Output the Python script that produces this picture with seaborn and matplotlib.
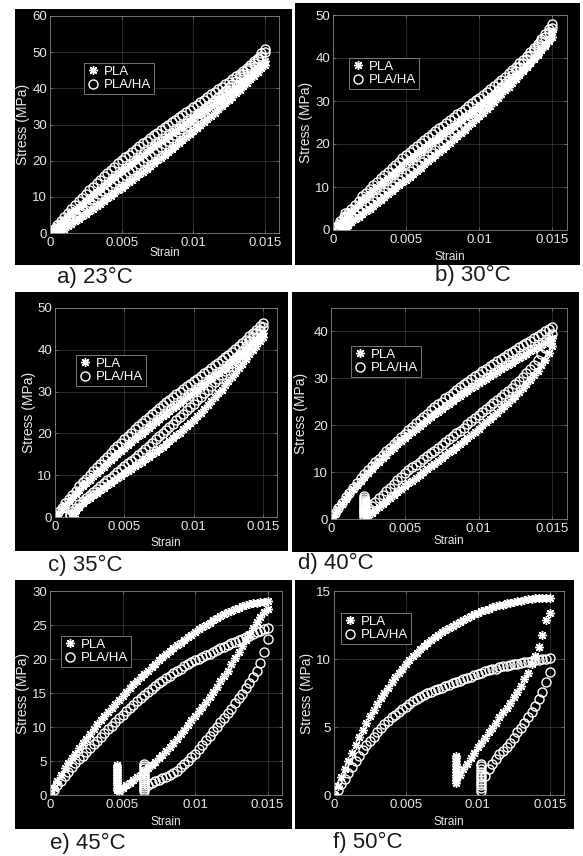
import numpy as np
import pandas as pd
import matplotlib
matplotlib.use("Agg")
import matplotlib.pyplot as plt
from matplotlib.lines import Line2D
from matplotlib.patches import Rectangle
import seaborn as sns

# strain grid (units of 1e-3); loading branches are read on it, unloading
# branches use its upper tail
strain_grid = [0, 0.25, 0.5, 0.75, 1, 1.25, 1.5, 1.75, 2, 2.25, 2.5, 2.75,
               3, 3.25, 3.5, 3.75, 4, 4.25, 4.5, 4.75, 5, 5.25, 5.5, 5.75,
               6, 6.25, 6.5, 6.75, 7, 7.25, 7.5, 7.75, 8, 8.25, 8.5, 8.75,
               9, 9.25, 9.5, 9.75, 10, 10.25, 10.5, 10.75, 11, 11.25, 11.5, 11.75,
               12, 12.25, 12.5, 12.75, 13, 13.25, 13.5, 13.75, 14, 14.25, 14.5, 14.75, 15]

materials = ["PLA", "PLA/HA"]
captions = ["a) 23°C", "b) 30°C", "c) 35°C", "d) 40°C", "e) 45°C", "f) 50°C"]
x_ticks = [0, 0.005, 0.01, 0.015]
x_tick_labels = ["0", "0.005", "0.01", "0.015"]

# ---- a) 23C ----
a_pla_load = [0, 0.9, 1.8, 2.7, 3.6, 4.5, 5.4, 6.3, 7.2, 8.05, 8.9, 9.75,
              10.6, 11.45, 12.25, 13.1, 13.9, 14.7, 15.5, 16.3, 17.1, 17.9, 18.65, 19.45,
              20.2, 20.95, 21.7, 22.45, 23.2, 23.95, 24.65, 25.4, 26.1, 26.85, 27.55, 28.3,
              29.0, 29.7, 30.4, 31.1, 31.8, 32.5, 33.2, 33.9, 34.6, 35.3, 36.0, 36.7,
              37.4, 38.1, 38.85, 39.55, 40.3, 41.1, 41.9, 42.7, 43.5, 44.45, 45.4, 46.45, 47.5]
a_plaha_load = [0, 1.1, 2.2, 3.3, 4.4, 5.5, 6.6, 7.7, 8.8, 9.8, 10.8, 11.8,
                12.8, 13.75, 14.7, 15.65, 16.6, 17.5, 18.35, 19.25, 20.1, 20.9, 21.7, 22.5,
                23.3, 24.05, 24.8, 25.55, 26.3, 27.05, 27.75, 28.5, 29.2, 29.9, 30.6, 31.3,
                32.0, 32.7, 33.4, 34.1, 34.8, 35.5, 36.2, 36.9, 37.6, 38.3, 39.0, 39.7,
                40.4, 41.1, 41.85, 42.55, 43.3, 44.1, 44.9, 45.7, 46.5, 47.5, 48.5, 49.7, 51.0]
a_pla_unload = [0.6, 1.2, 1.9, 2.55, 3.25, 3.9, 4.6, 5.3, 6.0, 6.7, 7.45, 8.15, 8.9,
                9.6, 10.35, 11.05, 11.8, 12.5, 13.25, 14.0, 14.75, 15.5, 16.25, 17.0, 17.75,
                18.5, 19.3, 20.05, 20.85, 21.6, 22.4, 23.2, 24.0, 24.8, 25.65, 26.45, 27.3,
                28.1, 28.95, 29.8, 30.65, 31.5, 32.4, 33.25, 34.15, 35.0, 35.9, 36.8, 37.7,
                38.6, 39.55, 40.55, 41.5, 42.5, 43.5, 44.5, 45.5, 46.5]
a_plaha_unload = [2.1, 3.0, 3.85, 4.65, 5.5, 6.3, 7.05, 7.8, 8.55, 9.3, 10.05, 10.8, 11.55,
                  12.3, 13.05, 13.8, 14.55, 15.3, 16.05, 16.8, 17.55, 18.3, 19.05, 19.85, 20.6,
                  21.4, 22.2, 23.0, 23.8, 24.6, 25.45, 26.25, 27.1, 27.9, 28.75, 29.6, 30.45,
                  31.3, 32.15, 33.05, 33.9, 34.8, 35.7, 36.6, 37.5, 38.4, 39.35, 40.25, 41.2,
                  42.1, 43.1, 44.05, 45.05, 46.0, 47.0, 48.0, 49.0, 50.0]
a_pla_strip = (0.5, [0.3, 0.9])
a_plaha_strip = (0.6, [0.4, 1.1])

# ---- b) 30C ----
b_pla_load = [0, 0.9, 1.75, 2.65, 3.5, 4.35, 5.2, 6.05, 6.9, 7.7, 8.45, 9.25,
              10.0, 10.75, 11.45, 12.2, 12.9, 13.6, 14.3, 15.0, 15.7, 16.35, 17.05, 17.7,
              18.4, 19.05, 19.7, 20.35, 21.0, 21.65, 22.3, 22.95, 23.6, 24.25, 24.9, 25.55,
              26.2, 26.85, 27.5, 28.15, 28.8, 29.45, 30.15, 30.8, 31.5, 32.2, 32.9, 33.6,
              34.3, 35.05, 35.8, 36.55, 37.3, 38.1, 38.9, 39.75, 40.6, 41.75, 42.9, 44.4, 46.0]
b_plaha_load = [0, 1.0, 2.0, 3.0, 4.0, 4.95, 5.9, 6.85, 7.8, 8.65, 9.5, 10.35,
                11.2, 12.0, 12.8, 13.6, 14.4, 15.15, 15.9, 16.65, 17.4, 18.15, 18.85, 19.6,
                20.3, 21.0, 21.65, 22.35, 23.0, 23.65, 24.3, 24.95, 25.6, 26.25, 26.9, 27.55,
                28.2, 28.85, 29.5, 30.15, 30.8, 31.45, 32.15, 32.8, 33.5, 34.2, 34.95, 35.65,
                36.4, 37.2, 38.0, 38.8, 39.6, 40.5, 41.4, 42.35, 43.3, 44.4, 45.5, 46.65, 47.8]
b_pla_unload = [0.6, 1.2, 1.85, 2.45, 3.1, 3.7, 4.35, 5.0, 5.65, 6.3, 6.95, 7.65, 8.3,
                9.0, 9.7, 10.35, 11.05, 11.7, 12.4, 13.1, 13.8, 14.5, 15.25, 15.95, 16.7,
                17.4, 18.15, 18.85, 19.6, 20.3, 21.05, 21.8, 22.55, 23.3, 24.1, 24.9, 25.7,
                26.5, 27.3, 28.15, 28.95, 29.8, 30.7, 31.55, 32.45, 33.3, 34.2, 35.15, 36.05,
                37.0, 38.0, 39.0, 40.0, 41.0, 42.0, 43.0, 44.0, 45.0]
b_plaha_unload = [1.4, 2.1, 2.8, 3.45, 4.15, 4.8, 5.5, 6.15, 6.85, 7.5, 8.2, 8.85, 9.55,
                  10.2, 10.9, 11.6, 12.3, 13.0, 13.7, 14.4, 15.1, 15.8, 16.55, 17.25, 18.0,
                  18.7, 19.45, 20.2, 20.95, 21.7, 22.45, 23.25, 24.0, 24.8, 25.6, 26.4, 27.2,
                  28.0, 28.85, 29.7, 30.55, 31.4, 32.3, 33.2, 34.1, 35.0, 35.95, 36.9, 37.85,
                  38.8, 39.8, 40.8, 41.8, 42.8, 43.85, 44.9, 45.95, 47.0]
b_pla_strip = (0.8, [0.2, 0.8, 1.4])
b_plaha_strip = (0.85, [0.3, 0.9, 1.5, 2.1, 2.7, 3.3, 3.9])

# ---- c) 35C ----
c_pla_load = [0, 0.95, 1.9, 2.85, 3.8, 4.7, 5.55, 6.45, 7.3, 8.1, 8.9, 9.7,
              10.5, 11.3, 12.05, 12.85, 13.6, 14.35, 15.05, 15.8, 16.5, 17.2, 17.9, 18.6,
              19.3, 19.95, 20.65, 21.3, 22.0, 22.7, 23.35, 24.05, 24.7, 25.35, 26.0, 26.65,
              27.3, 27.95, 28.6, 29.25, 29.9, 30.55, 31.2, 31.85, 32.5, 33.15, 33.8, 34.45,
              35.1, 35.75, 36.45, 37.1, 37.8, 38.55, 39.3, 40.05, 40.8, 41.55, 42.35, 43.15, 44.0]
c_plaha_load = [0, 1.1, 2.2, 3.25, 4.3, 5.3, 6.3, 7.3, 8.3, 9.2, 10.1, 11.0,
                11.9, 12.75, 13.6, 14.45, 15.3, 16.15, 16.95, 17.8, 18.6, 19.4, 20.15, 20.95,
                21.7, 22.45, 23.15, 23.9, 24.6, 25.3, 26.0, 26.7, 27.4, 28.05, 28.7, 29.35,
                30.0, 30.6, 31.25, 31.85, 32.5, 33.1, 33.75, 34.35, 35.0, 35.6, 36.25, 36.85,
                37.5, 38.2, 38.85, 39.55, 40.2, 40.95, 41.7, 42.45, 43.2, 44.0, 44.8, 45.65, 46.5]
c_pla_unload = [1.0, 1.7, 2.5, 3.3, 3.95, 4.55, 5.2, 5.8, 6.4, 7.0, 7.6,
                8.2, 8.75, 9.35, 9.9, 10.5, 11.05, 11.6, 12.15, 12.7, 13.25, 13.85, 14.4,
                15.0, 15.6, 16.25, 16.85, 17.5, 18.15, 18.85, 19.5, 20.2, 20.95, 21.7, 22.45,
                23.2, 24.1, 25.0, 25.9, 26.8, 27.7, 28.65, 29.55, 30.5, 31.5, 32.5, 33.5,
                34.5, 35.6, 36.7, 37.85, 39.0, 40.0, 41.0, 42.0, 43.0]
c_plaha_unload = [1.4, 2.2, 3.0, 3.8, 4.5, 5.2, 5.95, 6.7, 7.4, 8.05, 8.75,
                  9.4, 10.1, 10.75, 11.45, 12.1, 12.8, 13.5, 14.2, 14.9, 15.6, 16.35, 17.05,
                  17.8, 18.55, 19.3, 20.05, 20.8, 21.6, 22.35, 23.15, 23.9, 24.7, 25.5, 26.3,
                  27.1, 27.95, 28.8, 29.65, 30.5, 31.35, 32.2, 33.1, 34.0, 34.9, 35.85, 36.8,
                  37.8, 38.8, 39.8, 40.9, 42.0, 43.0, 44.0, 44.8, 45.5]
c_pla_strip = (1.35, [0.2, 0.6])
c_plaha_strip = (1.05, [0.3, 0.8])

# ---- d) 40C ----
d_pla_load = [0, 1.1, 2.2, 3.25, 4.3, 5.3, 6.3, 7.25, 8.2, 9.05, 9.9, 10.7,
              11.5, 12.25, 13.0, 13.75, 14.5, 15.2, 15.9, 16.6, 17.3, 17.95, 18.6, 19.25,
              19.9, 20.5, 21.1, 21.7, 22.3, 22.9, 23.45, 24.05, 24.6, 25.15, 25.7, 26.25,
              26.8, 27.3, 27.85, 28.35, 28.9, 29.4, 29.9, 30.4, 30.9, 31.4, 31.9, 32.4,
              32.9, 33.35, 33.85, 34.3, 34.8, 35.25, 35.75, 36.2, 36.7, 37.15, 37.6, 38.05, 38.5]
d_plaha_load = [0, 1.2, 2.35, 3.5, 4.6, 5.65, 6.7, 7.7, 8.7, 9.6, 10.45, 11.3,
                12.1, 12.9, 13.7, 14.45, 15.2, 15.95, 16.7, 17.45, 18.2, 18.95, 19.7, 20.4,
                21.1, 21.8, 22.45, 23.15, 23.8, 24.45, 25.05, 25.7, 26.3, 26.9, 27.5, 28.1,
                28.7, 29.3, 29.85, 30.45, 31.0, 31.5, 32.05, 32.55, 33.1, 33.6, 34.1, 34.6,
                35.1, 35.6, 36.1, 36.6, 37.1, 37.55, 38.05, 38.5, 39.0, 39.5, 40.0, 40.5, 41.0]
d_pla_unload = [0.8, 1.35, 1.9, 2.55, 3.2, 3.85, 4.5, 5.1, 5.75, 6.35,
                7.0, 7.6, 8.2, 8.8, 9.4, 10.0, 10.6, 11.2, 11.8, 12.4, 13.0, 13.6,
                14.2, 14.8, 15.45, 16.05, 16.7, 17.35, 18.0, 18.65, 19.3, 19.95, 20.65, 21.3,
                22.0, 22.7, 23.4, 24.1, 24.8, 25.55, 26.3, 27.1, 27.9, 28.8, 29.7, 30.65,
                31.6, 32.8, 34.0, 35.5, 37.0]
d_plaha_unload = [2.0, 2.8, 3.6, 4.4, 5.2, 5.95, 6.7, 7.5, 8.25, 9.05,
                  9.8, 10.4, 11.0, 11.6, 12.2, 12.8, 13.4, 14.0, 14.6, 15.2, 15.8, 16.4,
                  17.0, 17.6, 18.25, 18.85, 19.5, 20.2, 20.85, 21.55, 22.2, 22.8, 23.45, 24.05,
                  24.7, 25.35, 26.0, 26.65, 27.3, 28.0, 28.7, 29.45, 30.2, 31.05, 31.95, 32.95,
                  34.0, 35.2, 36.5, 38.0, 39.5]
d_pla_strip = (2.35, [0.6, 1.1, 1.6, 2.1, 2.6, 3.1, 3.6, 4.1])
d_plaha_strip = (2.25, [0.4, 0.8, 1.2, 1.6, 2.0, 2.4, 2.8, 3.2, 3.6, 4.0, 4.4, 4.8])

# ---- e) 45C ----
e_pla_load = [0, 1.0, 2.0, 3.0, 3.9, 4.7, 5.4, 6.1, 6.9, 7.6, 8.3, 9.0,
              9.7, 10.4, 11.0, 11.6, 12.2, 12.8, 13.4, 13.9, 14.5, 15.1, 15.7, 16.3,
              16.8, 17.3, 17.8, 18.3, 18.8, 19.3, 19.8, 20.3, 20.8, 21.2, 21.6, 22.0,
              22.4, 22.8, 23.2, 23.6, 24.0, 24.35, 24.7, 25.0, 25.35, 25.7, 26.0, 26.3,
              26.6, 26.85, 27.1, 27.35, 27.55, 27.75, 27.95, 28.1, 28.2, 28.3, 28.4, 28.45, 28.5]
e_plaha_load = [0, 0.7, 1.4, 2.1, 2.8, 3.45, 4.05, 4.65, 5.25, 5.8, 6.35, 6.9,
                7.45, 8.0, 8.55, 9.1, 9.65, 10.2, 10.75, 11.3, 11.8, 12.3, 12.8, 13.3,
                13.8, 14.25, 14.7, 15.15, 15.6, 16.0, 16.4, 16.8, 17.2, 17.55, 17.9, 18.25,
                18.6, 18.9, 19.2, 19.5, 19.8, 20.05, 20.3, 20.55, 20.8, 21.05, 21.3, 21.55,
                21.8, 22.05, 22.3, 22.5, 22.75, 23.0, 23.2, 23.45, 23.7, 23.9, 24.1, 24.35, 24.6]
e_pla_unload = [0.6, 1.0, 1.4, 1.8, 2.2, 2.6, 3.0, 3.4, 3.9, 4.4, 4.9, 5.4, 5.9,
                6.5, 7.1, 7.7, 8.3, 8.9, 9.6, 10.3, 11.0, 11.6, 12.3, 13.0, 13.7,
                14.4, 15.1, 15.9, 16.7, 17.5, 18.3, 19.2, 20.1, 21.0, 21.9, 22.8, 23.7,
                24.6, 25.4, 26.2, 26.9, 27.4]
e_plaha_unload = [1.5, 1.8, 2.05, 2.25, 2.45, 2.65, 2.95, 3.25, 3.6,
                  4.05, 4.5, 5.0, 5.55, 6.1, 6.7, 7.35, 8.05, 8.75, 9.4, 10.05, 10.7,
                  11.35, 12.0, 12.7, 13.5, 14.2, 14.9, 15.7, 16.5, 17.3, 18.2, 19.4, 21.0, 23.0]
e_pla_strip = (4.6, [0.8, 1.1, 1.4, 1.7, 2.0, 2.3, 2.6, 2.9, 3.2, 3.5, 3.8, 4.1, 4.4])
e_plaha_strip = (6.5, [0.6, 0.9, 1.2, 1.5, 1.8, 2.1, 2.4, 2.7, 3.0, 3.3, 3.6, 3.9, 4.2, 4.5])

# ---- f) 50C ----
f_pla_load = [0, 0.65, 1.3, 1.9, 2.5, 3.1, 3.7, 4.25, 4.8, 5.3, 5.8, 6.25,
              6.7, 7.1, 7.5, 7.9, 8.3, 8.65, 9.0, 9.3, 9.6, 9.9, 10.2, 10.45,
              10.7, 10.95, 11.2, 11.4, 11.6, 11.8, 12.0, 12.15, 12.3, 12.45, 12.6, 12.75,
              12.9, 13.0, 13.15, 13.3, 13.4, 13.5, 13.6, 13.7, 13.8, 13.9, 13.95, 14.0,
              14.1, 14.15, 14.2, 14.25, 14.3, 14.35, 14.4, 14.4, 14.45, 14.5, 14.5, 14.5, 14.5]
f_plaha_load = [0, 0.4, 0.8, 1.2, 1.6, 2.05, 2.5, 2.9, 3.3, 3.65, 4.0, 4.3,
                4.6, 4.9, 5.2, 5.45, 5.7, 5.9, 6.1, 6.3, 6.5, 6.7, 6.9, 7.05,
                7.2, 7.35, 7.5, 7.6, 7.7, 7.8, 7.9, 8.0, 8.1, 8.2, 8.3, 8.4,
                8.5, 8.6, 8.7, 8.8, 8.9, 9.0, 9.1, 9.2, 9.25, 9.3, 9.4, 9.45,
                9.5, 9.55, 9.6, 9.65, 9.7, 9.75, 9.8, 9.85, 9.9, 9.95, 10.0, 10.0, 10.05]
f_pla_unload = [1.1, 1.5, 1.9, 2.3, 2.7, 3.1, 3.5, 3.8, 4.2, 4.6, 4.9, 5.3, 5.7, 6.1,
                6.4, 6.8, 7.2, 7.6, 8.0, 8.5, 9.0, 9.6, 10.2, 10.9, 11.8, 12.9, 13.4]
f_plaha_unload = [1.4, 1.9, 2.3, 2.65, 3.0, 3.2, 3.5, 3.8, 4.2, 4.6,
                  4.95, 5.3, 5.7, 6.1, 6.55, 7.05, 7.6, 8.3, 9.05]
f_pla_strip = (8.5, [0.9, 1.1, 1.3, 1.5, 1.7, 1.9, 2.1, 2.3, 2.5, 2.7, 2.9])
f_plaha_strip = (10.25, [0.3, 0.5, 0.7, 0.9, 1.1, 1.3, 1.5, 1.7, 1.9, 2.1, 2.3])

y_max = [60, 50, 50, 45, 30, 15]
y_step = [10, 10, 10, 10, 5, 5]

series = [
    [(a_pla_load, a_pla_unload, a_pla_strip), (a_plaha_load, a_plaha_unload, a_plaha_strip)],
    [(b_pla_load, b_pla_unload, b_pla_strip), (b_plaha_load, b_plaha_unload, b_plaha_strip)],
    [(c_pla_load, c_pla_unload, c_pla_strip), (c_plaha_load, c_plaha_unload, c_plaha_strip)],
    [(d_pla_load, d_pla_unload, d_pla_strip), (d_plaha_load, d_plaha_unload, d_plaha_strip)],
    [(e_pla_load, e_pla_unload, e_pla_strip), (e_plaha_load, e_plaha_unload, e_plaha_strip)],
    [(f_pla_load, f_pla_unload, f_pla_strip), (f_plaha_load, f_plaha_unload, f_plaha_strip)],
]

# ---- layout in pixels (figure is 583 x 856) ----
W, H = 583, 856
# black panel, axes box (l, t, r, b), legend top-left, ylabel centre x,
# xlabel centre y, caption (x, centre y)
layout = [
    ((15, 9, 292, 265), (50, 16, 279, 233), (84, 63), 23, 253, (57, 277)),
    ((295, 3, 580, 265), (333, 15, 567, 230), (349, 58), 306, 257, (435, 275)),
    ((15, 292, 288, 551), (55, 308, 277, 517), (76, 355), 29, 543, (48, 565)),
    ((292, 292, 579, 552), (331, 308, 567, 519), (351, 346), 301, 541, (298, 563)),
    ((15, 580, 292, 829), (50, 591, 282, 795), (61, 636), 23, 822, (50, 843)),
    ((295, 580, 574, 829), (334, 591, 564, 795), (341, 613), 307, 822, (333, 842)),
]

STAR = (8, 2, 0)   # MATLAB style asterisk
MS = 6.5
MEW = 1.0
GRID_C = "#3c3c3c"
BOX_C = "#808080"
TXT_C = "#e8e8e8"

sns.set_theme(style="ticks")
plt.rcParams["font.family"] = ["Liberation Sans", "DejaVu Sans"]

fig = plt.figure(figsize=(W / 100, H / 100), dpi=100)
fig.patch.set_facecolor("white")


def make_frame(parts):
    frames = []
    for material, (load, unload, strip) in zip(materials, parts):
        xs = strain_grid[:len(load)] + strain_grid[-len(unload):] + [strip[0]] * len(strip[1])
        ys = load + unload + strip[1]
        frames.append(pd.DataFrame({"strain": np.array(xs) / 1000.0,
                                    "stress": ys, "material": material}))
    return pd.concat(frames, ignore_index=True)


for i, (black, box, leg, ylab_x, xlab_y, cap) in enumerate(layout):
    x0, y0, x1, y1 = black
    fig.add_artist(Rectangle((x0 / W, 1 - y1 / H), (x1 - x0) / W, (y1 - y0) / H,
                             transform=fig.transFigure, facecolor="black",
                             edgecolor="none", zorder=-5))
    l, t, r, b = box
    w, h = r - l, b - t
    ax = fig.add_axes([l / W, 1 - b / H, w / W, h / H])
    ax.set_facecolor("black")

    df = make_frame(series[i])
    sns.lineplot(data=df[df.material == "PLA"], x="strain", y="stress", ax=ax,
                 estimator=None, sort=False, linestyle="", marker=STAR,
                 markersize=MS, markeredgewidth=MEW, markeredgecolor="white",
                 color="white")
    sns.lineplot(data=df[df.material == "PLA/HA"], x="strain", y="stress", ax=ax,
                 estimator=None, sort=False, linestyle="", marker="o",
                 markersize=MS, markeredgewidth=MEW, markeredgecolor="white",
                 markerfacecolor="none", color="white")

    ax.set_xlim(0, 0.016)
    ax.set_ylim(0, y_max[i])
    ax.set_xticks(x_ticks)
    ax.set_xticklabels(x_tick_labels)
    ax.set_yticks(np.arange(0, y_max[i] + 0.1, y_step[i]))
    ax.grid(True, color=GRID_C, linewidth=0.5)
    ax.set_axisbelow(True)
    for s in ax.spines.values():
        s.set_color(BOX_C)
        s.set_linewidth(0.6)
    ax.tick_params(direction="in", length=2.5, width=0.5, color=BOX_C,
                   top=True, right=True, labelcolor=TXT_C, labelsize=9.5)
    ax.tick_params(axis="x", pad=3)
    ax.tick_params(axis="y", pad=2)

    ax.set_xlabel("Strain", color=TXT_C, fontsize=8.5)
    ax.set_ylabel("Stress (MPa)", color=TXT_C, fontsize=10)
    ax.xaxis.set_label_coords(0.5, (b - (xlab_y - 6)) / h)
    ax.yaxis.set_label_coords((ylab_x + 7 - l) / w, 0.5)

    handles = [Line2D([], [], linestyle="", marker=STAR, markersize=MS,
                      markeredgewidth=MEW, color="white"),
               Line2D([], [], linestyle="", marker="o", markersize=MS,
                      markeredgewidth=MEW, markeredgecolor="white",
                      markerfacecolor="none")]
    lg = ax.legend(handles, materials, loc="upper left",
                   bbox_to_anchor=((leg[0] - l) / w, 1 - (leg[1] - t) / h),
                   borderaxespad=0, frameon=True, fancybox=False, fontsize=9.5,
                   labelcolor="white", facecolor="black", edgecolor="#8a8a8a",
                   framealpha=1, handlelength=0.9, handletextpad=0.4,
                   borderpad=0.2, labelspacing=0.1)
    lg.get_frame().set_linewidth(0.6)

    fig.text(cap[0] / W, 1 - cap[1] / H, captions[i], ha="left", va="center",
             fontsize=16, color="#1a1a1a")

fig.savefig("out.png", dpi=100, facecolor="white")
